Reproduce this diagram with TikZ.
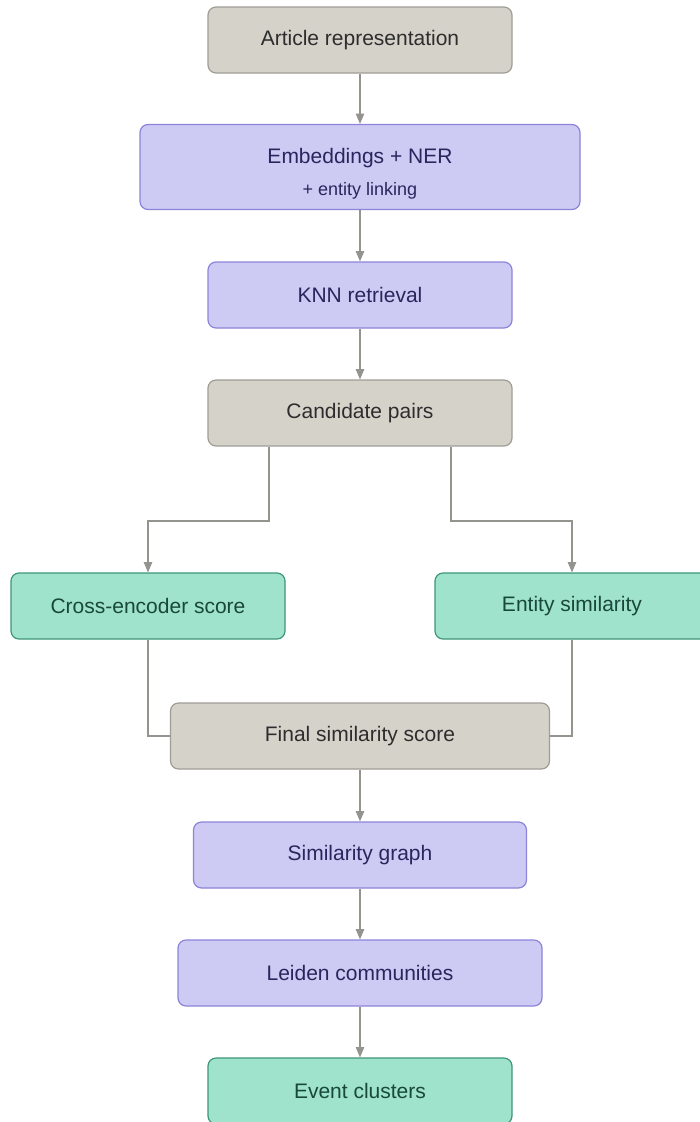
\documentclass[tikz,border=0pt]{standalone}
\usepackage{fontspec}
\setmainfont{Liberation Sans}
\usetikzlibrary{arrows}
\definecolor{stone}{RGB}{213,210,202}
\definecolor{stoneline}{RGB}{160,157,150}
\definecolor{stonetext}{RGB}{45,45,45}
\definecolor{lilac}{RGB}{205,202,244}
\definecolor{lilacline}{RGB}{140,132,216}
\definecolor{lilactext}{RGB}{40,38,92}
\definecolor{mint}{RGB}{160,227,204}
\definecolor{mintline}{RGB}{62,150,122}
\definecolor{minttext}{RGB}{24,72,58}
\colorlet{wire}{black!30!stone}

\begin{document}
\begin{tikzpicture} [
    x=1pt, y=-1pt,
    line width=1.2pt,
    every node/.append style={align=center, font=\fontsize{21}{24}\selectfont},
    box/.style={rounded corners=8pt, minimum height=66pt, inner sep=0pt},
    plain box/.style={box, fill=stone, draw=stoneline, text=stonetext},
    model box/.style={box, fill=lilac, draw=lilacline, text=lilactext},
    score box/.style={box, fill=mint, draw=mintline, text=minttext},
    arr/.style={draw=wire, line width=1.4pt, ->, >=triangle 45},
    merge line/.style={draw=wire, line width=1.4pt}
  ]

  \clip (0,0) rectangle (700,1122);

  \node [plain box, minimum width=304pt] (article) at (360,40) {Article representation};
  \node [model box, minimum width=440pt, minimum height=85pt] (embed) at (360,167)
    {\rule{0pt}{29pt}Embeddings + NER\\[8pt]{\fontsize{18}{20}\selectfont + entity linking}};
  \node [model box, minimum width=304pt] (knn) at (360,295) {KNN retrieval};
  \node [plain box, minimum width=304pt] (pairs) at (360,413) {Candidate pairs};

  \node [score box, minimum width=274pt] (cross) at (148,606) {Cross-encoder score};
  \node [score box, minimum width=274pt] (entity) at (572,606) {Entity similarity};

  \node [plain box, minimum width=379pt] (final) at (360,736) {Final similarity score};
  \node [model box, minimum width=333pt] (graph) at (360,855) {Similarity graph};
  \node [model box, minimum width=364pt] (leiden) at (360,973) {Leiden communities};
  \node [score box, minimum width=304pt] (clusters) at (360,1091) {Event clusters};

  \coordinate (split left) at (269,521);
  \coordinate (split right) at (451,521);

  % main line
  \path [arr] (article) -- (embed);
  \path [arr] (embed) -- (knn);
  \path [arr] (knn) -- (pairs);
  \path [arr] (final) -- (graph);
  \path [arr] (graph) -- (leiden);
  \path [arr] (leiden) -- (clusters);

  % split into the two scores
  \path [arr] (pairs.south -| split left) -- (split left) -| (cross.north);
  \path [arr] (pairs.south -| split right) -- (split right) -| (entity.north);

  % and back together
  \path [merge line] (cross.south) |- (final.west);
  \path [merge line] (entity.south) |- (final.east);
\end{tikzpicture}
\end{document}
